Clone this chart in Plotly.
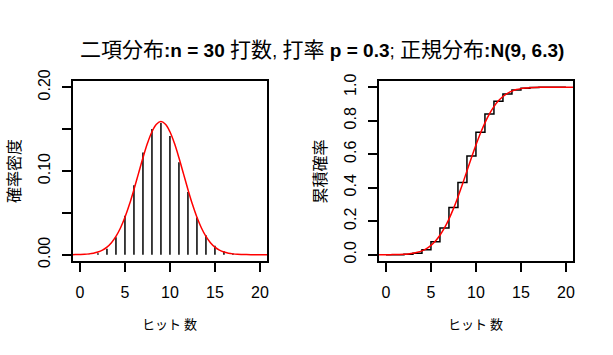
import plotly.graph_objects as go

# Data
hits = list(range(0, 21))
pmf = [0.00002, 0.0003, 0.0018, 0.0072, 0.0208, 0.0464, 0.0829, 0.1219, 0.1501, 0.1573,
       0.1416, 0.1103, 0.0748, 0.0444, 0.0231, 0.0106, 0.0042, 0.0015, 0.0005, 0.0001, 0.00003]
cdf = [0.0000, 0.0003, 0.0021, 0.0093, 0.0302, 0.0766, 0.1595, 0.2814, 0.4315, 0.5888,
       0.7304, 0.8407, 0.9155, 0.9599, 0.9831, 0.9936, 0.9979, 0.9994, 0.9998, 1.0000, 1.0000]

curve_x = [v / 2 for v in range(-2, 43)]
norm_pdf = [0.00006, 0.00012, 0.00026, 0.00051, 0.00099, 0.00183, 0.00325, 0.00556, 0.00913, 0.01440,
            0.02185, 0.03186, 0.04464, 0.06012, 0.07781, 0.09679, 0.11571, 0.13295, 0.14681, 0.15582,
            0.15894,
            0.15582, 0.14681, 0.13295, 0.11571, 0.09679, 0.07781, 0.06012, 0.04464, 0.03186, 0.02185,
            0.01440, 0.00913, 0.00556, 0.00325, 0.00183, 0.00099, 0.00051, 0.00026, 0.00012, 0.00006,
            0.00003, 0.00001, 0.0, 0.0]
norm_cdf = [0.0000, 0.0001, 0.0002, 0.0004, 0.0007, 0.0014, 0.0026, 0.0048, 0.0084, 0.0142,
            0.0232, 0.0365, 0.0555, 0.0816, 0.1160, 0.1596, 0.2128, 0.2750, 0.3452, 0.4210,
            0.5000,
            0.5790, 0.6548, 0.7250, 0.7872, 0.8404, 0.8840, 0.9184, 0.9445, 0.9635, 0.9768,
            0.9858, 0.9916, 0.9952, 0.9974, 0.9986, 0.9993, 0.9996, 0.9998, 0.9999, 1.0000,
            1.0000, 1.0000, 1.0000, 1.0000]

x_ticks = [0, 5, 10, 15, 20]
y1_ticks = [0.00, 0.05, 0.10, 0.15, 0.20]
y1_labels = ["0.00", "", "0.10", "", "0.20"]
y2_ticks = [0.0, 0.2, 0.4, 0.6, 0.8, 1.0]
y2_labels = ["0.0", "0.2", "0.4", "0.6", "0.8", "1.0"]

CJ = '<span style="font-family:Noto Sans CJK JP;font-size:21px">'
title_text = (CJ + "二項分布</span><b>:n = 30</b> " + CJ + "打数</span>, " + CJ + "打率</span> <b>p = 0.3</b>; "
              + CJ + "正規分布</span><b>:N(9, 6.3)</b>")
x_title = "ヒット 数"
y1_title = "確率密度"
y2_title = "累積確率"

W, H = 613, 355


def px(x):
    return x / W


def py(y):
    return 1 - y / H


# stems
stem_x, stem_y = [], []
for k, p in zip(hits, pmf):
    stem_x += [k, k, None]
    stem_y += [0, p, None]

fig = go.Figure()
fig.add_trace(go.Scatter(x=stem_x, y=stem_y, mode="lines", line=dict(color="black", width=1.5),
                         xaxis="x", yaxis="y", showlegend=False, hoverinfo="skip"))
fig.add_trace(go.Scatter(x=curve_x, y=norm_pdf, mode="lines", line=dict(color="red", width=1.5, shape="spline"),
                         xaxis="x", yaxis="y", showlegend=False))
fig.add_trace(go.Scatter(x=hits, y=cdf, mode="lines", line=dict(color="black", width=1.5, shape="hv"),
                         xaxis="x2", yaxis="y2", showlegend=False))
fig.add_trace(go.Scatter(x=curve_x, y=norm_cdf, mode="lines", line=dict(color="red", width=1.5, shape="spline"),
                         xaxis="x2", yaxis="y2", showlegend=False))

tick_font = dict(family="Liberation Sans, Arial, sans-serif", size=16, color="black")
common = dict(showline=True, linecolor="black", linewidth=1.5, mirror=True, ticks="outside",
              ticklen=9, tickwidth=1.5, tickcolor="black", showgrid=False, zeroline=False,
              tickfont=tick_font)

ydom = [py(263), py(73)]
fig.update_layout(
    width=W, height=H, autosize=False,
    margin=dict(l=0, r=0, t=0, b=0),
    paper_bgcolor="white", plot_bgcolor="white",
    xaxis=dict(domain=[px(73), px(268)], range=[-0.8, 20.8], tickvals=x_ticks,
               anchor="y", ticklabelstandoff=7, **common),
    yaxis=dict(domain=ydom, range=[-0.008, 0.208], tickvals=y1_ticks, ticktext=y1_labels,
               tickangle=-90, anchor="x", ticklabelstandoff=6, **common),
    xaxis2=dict(domain=[px(380), px(575)], range=[-0.8, 20.8], tickvals=x_ticks,
                anchor="y2", ticklabelstandoff=7, **common),
    yaxis2=dict(domain=ydom, range=[-0.04, 1.04], tickvals=y2_ticks, ticktext=y2_labels,
                tickangle=-90, anchor="x2", ticklabelstandoff=6, **common),
)

fig.add_annotation(text=title_text, x=px(323), y=py(38.5), xref="paper", yref="paper",
                   showarrow=False, xanchor="center", yanchor="middle",
                   font=dict(family="Liberation Sans, Noto Sans CJK JP, sans-serif", size=19, color="black"))
for cx in [(73 + 268) / 2, (380 + 575) / 2]:
    fig.add_annotation(text=x_title, x=px(cx), y=py(328.5), xref="paper", yref="paper",
                       showarrow=False, xanchor="center", yanchor="middle",
                       font=dict(family="Noto Sans CJK JP", size=13, color="black"))
for cx, t in [(13, y1_title), (319.5, y2_title)]:
    fig.add_annotation(text=t, x=px(cx), y=py(168), xref="paper", yref="paper",
                       showarrow=False, xanchor="center", yanchor="middle", textangle=-90,
                       font=dict(family="Noto Sans CJK JP", size=16, color="black"))

fig.write_html("out.html", config={"displayModeBar": False},
               post_script="document.body.style.margin='0px';")
